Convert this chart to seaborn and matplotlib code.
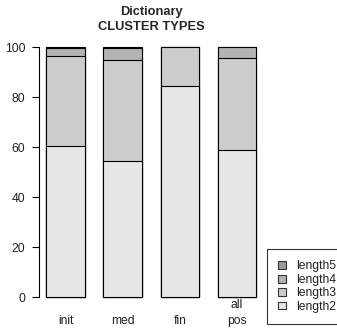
import matplotlib
matplotlib.use("Agg")
import matplotlib.pyplot as plt
from matplotlib.patches import Patch
from matplotlib.transforms import blended_transform_factory
import numpy as np
import pandas as pd
import seaborn as sns

# Share (%) of each cluster length per word position
positions = ["init", "med", "fin", "all\npos"]
length2 = [60.5, 54.4, 84.4, 58.8]
length3 = [35.9, 40.3, 15.6, 36.7]
length4 = [3.4, 4.8, 0.0, 4.5]
length5 = [0.2, 0.5, 0.0, 0.0]

series_names = ["length2", "length3", "length4", "length5"]
series_colors = ["#e6e6e6", "#cccccc", "#b3b3b3", "#999999"]

sns.set_theme(style="white")
plt.rcParams["font.family"] = ["Liberation Sans", "DejaVu Sans"]

fig = plt.figure(figsize=(3.37, 3.29), dpi=100)
W, H = 337, 329
ax_left, ax_right, ax_top, ax_bottom = 39, 265, 37, 307
ax = fig.add_axes([ax_left / W, 1 - ax_bottom / H,
                   (ax_right - ax_left) / W, (ax_bottom - ax_top) / H])

df = pd.DataFrame({"pos": positions, "length2": length2, "length3": length3,
                   "length4": length4, "length5": length5})
cum = df[series_names].cumsum(axis=1)

# Stack by overlaying cumulative totals, tallest first
for name, col in reversed(list(zip(series_names, series_colors))):
    sns.barplot(data=cum.assign(pos=df["pos"]), x="pos", y=name, order=positions,
                color=col, saturation=1, width=0.68, edgecolor="black",
                linewidth=0.8, errorbar=None, ax=ax)

ax.set_xlim(-0.47, 3.49)
ax.set_ylim(-4, 104)
ax.set_yticks(np.arange(0, 101, 20))
ax.set_yticklabels([str(v) for v in range(0, 101, 20)], fontsize=8.7, color="#222222")
ax.tick_params(axis="y", left=True, length=5, width=0.8, pad=5, color="black")
ax.set_xticks([])
ax.set_xlabel("")
ax.set_ylabel("")
for s in ["top", "right", "bottom"]:
    ax.spines[s].set_visible(False)
ax.spines["left"].set_bounds(0, 100)
ax.spines["left"].set_color("black")
ax.spines["left"].set_linewidth(0.8)

trans = blended_transform_factory(ax.transData, ax.transAxes)
for i, lab in enumerate(positions):
    ax.text(i, -0.075, lab, transform=trans, ha="center", va="bottom",
            fontsize=8.7, color="#222222", linespacing=1.45)

fig.text(((ax_left + ax_right) / 2 - 1) / W, 1 - 6.5 / H, "Dictionary\nCLUSTER TYPES",
         ha="center", va="top", fontsize=9.3, fontweight="bold", linespacing=1.3)

handles = [Patch(facecolor=c, edgecolor="#333333", linewidth=0.8)
           for c in reversed(series_colors)]
leg = fig.legend(handles, list(reversed(series_names)), loc="upper left",
                 bbox_to_anchor=(267 / W, 1 - 249 / H), borderaxespad=0,
                 fontsize=8.7, frameon=True, fancybox=False, edgecolor="black",
                 handlelength=0.6, handleheight=0.6, handletextpad=0.85,
                 labelspacing=0.12, borderpad=0.95)
leg.get_frame().set_linewidth(0.8)
for t in leg.get_texts():
    t.set_color("#222222")

fig.savefig("out.png", dpi=100)
